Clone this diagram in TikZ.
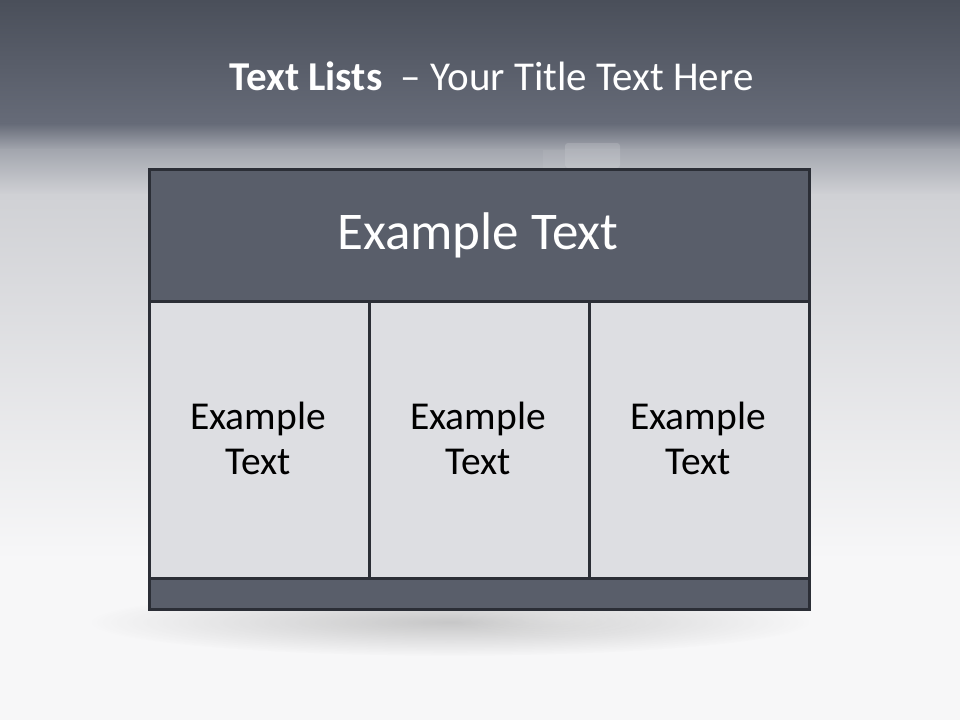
\documentclass[tikz,border=0pt]{standalone}
\usepackage{fontspec}
\setmainfont{Carlito}
\usetikzlibrary{fadings}
\tikzfading[name=softfade, inner color=transparent!20, outer color=transparent!100]
\begin{document}
\begin{tikzpicture}[x=1pt,y=-1pt,
  boxline/.style={draw=boxedge,line width=2.6pt},
  darkcell/.style={boxline,fill=darkfill},
  lightcell/.style={boxline,fill=lightfill},
  celltext/.style={align=center,font=\fontsize{39.5}{45}\selectfont,text=black},
]
\definecolor{bgtop}{HTML}{4A4F5A}
\definecolor{bgmid}{HTML}{666B78}
\definecolor{bgfade}{HTML}{A3A6AE}
\definecolor{bglight}{HTML}{D0D1D5}
\definecolor{bgbottom}{HTML}{F7F7F8}
\definecolor{boxedge}{HTML}{2B2E36}
\definecolor{darkfill}{HTML}{595E6A}
\definecolor{lightfill}{HTML}{DDDEE2}
\useasboundingbox (0,0) rectangle (960,720);
% background
\shade[top color=bgtop,bottom color=bgmid] (0,0) rectangle (960,124);
\shade[top color=bgmid,bottom color=bgfade] (0,123.5) rectangle (960,150);
\shade[top color=bgfade,bottom color=bglight] (0,149.5) rectangle (960,195);
\shade[top color=bglight,bottom color=bgbottom] (0,194.5) rectangle (960,560);
\fill[bgbottom] (0,559.5) rectangle (960,720);
% faint background object
\fill[white,opacity=0.15,rounded corners=3pt] (565,143) rectangle (620,168);
\fill[white,opacity=0.06] (543,150) rectangle (565,168);
% soft shadow under the box
\fill[black!70,opacity=0.35,path fading=softfade] (450,622) ellipse (360 and 34);
\fill[white,opacity=0.25,path fading=softfade] (560,618) ellipse (110 and 20);
% box
\node[darkcell,minimum width=660pt,minimum height=132pt,anchor=north west,inner sep=0pt] (head) at (148,168) {};
\node[lightcell,minimum width=220pt,minimum height=277pt,anchor=north west,inner sep=0pt] (c1) at (148,300) {};
\node[lightcell,minimum width=220pt,minimum height=277pt,anchor=north west,inner sep=0pt] (c2) at (368,300) {};
\node[lightcell,minimum width=220pt,minimum height=277pt,anchor=north west,inner sep=0pt] (c3) at (588,300) {};
\node[darkcell,minimum width=660pt,minimum height=31pt,anchor=north west,inner sep=0pt] (foot) at (148,577) {};
% texts
\node[text=white,font=\fontsize{53}{60}\selectfont] (headtext) at (478,235) {Example Text};
\node[celltext] (t1) at (258,438) {Example\\Text};
\node[celltext] (t2) at (478,438) {Example\\Text};
\node[celltext] (t3) at (698,438) {Example\\Text};
\node[text=white,font=\fontsize{41}{48}\selectfont] (title) at (491.5,76) {\textbf{Text Lists}\hspace{0.45em}– Your Title Text Here};
\end{tikzpicture}
\end{document}
